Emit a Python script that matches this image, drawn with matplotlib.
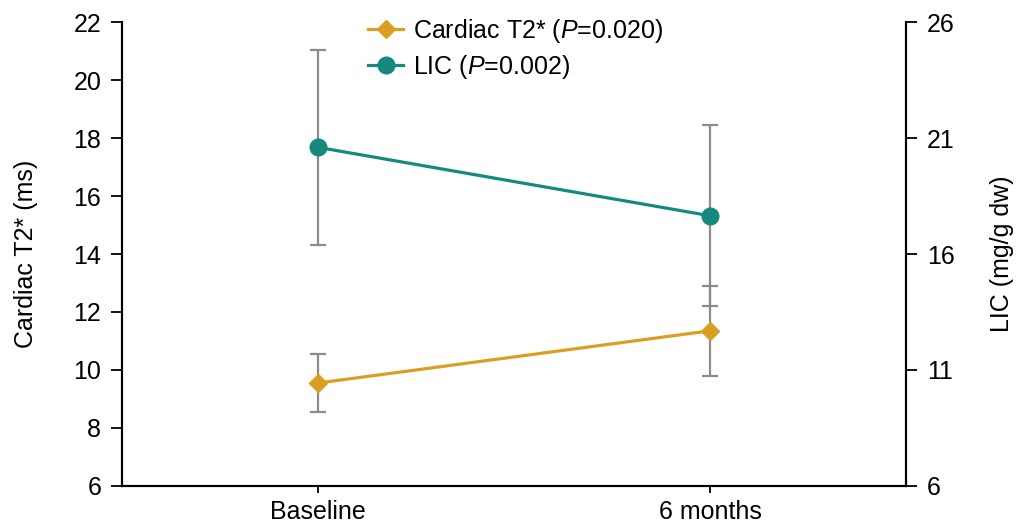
import numpy as np
import matplotlib.pyplot as plt

plt.rcParams['font.family'] = ['Liberation Sans', 'DejaVu Sans']
plt.rcParams['mathtext.fontset'] = 'custom'
plt.rcParams['mathtext.rm'] = 'Liberation Sans'
plt.rcParams['mathtext.it'] = 'Liberation Sans:italic'

timepoints = ['Baseline', '6 months']
t2_mean = [9.55, 11.35]
t2_err = [1.0, 1.55]
lic_mean = [20.6, 17.65]
lic_err = [4.2, 3.9]

orange = '#DA9F22'
teal = '#16897F'
x = np.arange(len(timepoints))

fig, ax = plt.subplots(figsize=(10.18, 5.27), dpi=100)
ax2 = ax.twinx()

# error bars: grey stem, dark caps
for a, m, e in ((ax, t2_mean, t2_err), (ax2, lic_mean, lic_err)):
    _, caps, _ = a.errorbar(x, m, yerr=e, fmt='none', ecolor='#8c8c8c', elinewidth=1.6,
                            capsize=5.5, capthick=1.6, zorder=2)
    for c in caps:
        c.set_color('#2b2b2b')

l1, = ax.plot(x, t2_mean, color=orange, marker='D', markersize=9, linewidth=2.3, zorder=3,
              label='Cardiac T2* ($\\it{P}$=0.020)')
l2, = ax2.plot(x, lic_mean, color=teal, marker='o', markersize=12, linewidth=2.3, zorder=3,
               label='LIC ($\\it{P}$=0.002)')

ax.set_xlim(-0.5, 1.5)
ax.set_ylim(6, 22)
ax.set_yticks(np.arange(6, 23, 2))
ax2.set_ylim(6, 26)
ax2.set_yticks([6, 11, 16, 21, 26])
ax.set_xticks(x)
ax.set_xticklabels(timepoints)

for a in (ax, ax2):
    a.spines['top'].set_visible(False)
    a.tick_params(axis='y', labelsize=18, length=8, width=1.3, pad=7, direction='out')
    for s in a.spines.values():
        s.set_linewidth(1.5)
ax.tick_params(axis='x', labelsize=18, length=5, width=1.3, pad=5)

ax.set_ylabel('Cardiac T2* (ms)', fontsize=18)
ax2.set_ylabel('LIC (mg/g dw)', fontsize=18)
ax.yaxis.set_label_coords(-0.107, 0.5)
ax2.yaxis.set_label_coords(1.107, 0.5)

ax.legend(handles=[l1, l2], loc='upper left', bbox_to_anchor=(0.314, 1.011), frameon=False,
          fontsize=18, handlelength=1.4, handletextpad=0.4, labelspacing=0.3,
          borderpad=0, borderaxespad=0)

fig.subplots_adjust(left=0.12, right=0.89, top=0.958, bottom=0.078)
fig.savefig('out.png', dpi=100)
